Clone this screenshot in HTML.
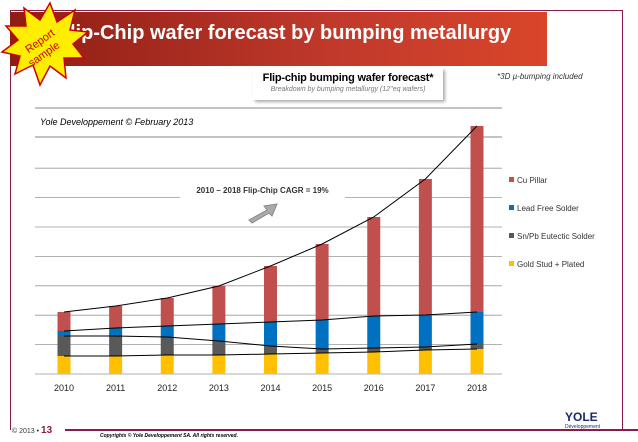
<!DOCTYPE html>
<html><head><meta charset="utf-8"><style>
body{margin:0;width:638px;height:442px;background:#fff;overflow:hidden;position:relative;font-family:"Liberation Sans",sans-serif}
.abs{position:absolute}
</style></head><body>
<div class="abs" style="left:10px;top:10px;width:613px;height:420px;border:1px solid #8b1a4a;border-bottom:none;box-sizing:border-box"></div>
<div class="abs" style="left:10px;top:12px;width:537px;height:54px;background:linear-gradient(90deg,#8e1d14,#c0392b 60%,#d9452a)"></div>
<div class="abs" style="left:70px;top:22px;color:#fff;font-weight:bold;font-size:20px">lip-Chip wafer forecast by bumping metallurgy</div>
<svg class="abs" style="left:0;top:0" width="90" height="95">
<polygon points="50,3 57,22 75,10 70,30 88,32 73,44 84,58 64,58 66,78 50,66 40,85 33,65 15,74 20,56 2,52 18,40 6,26 26,26 24,8 40,20" fill="#ffee00" stroke="#c00" stroke-width="1.5"/>
<text x="42" y="44" transform="rotate(-35 42 44)" font-size="11" fill="#c00" text-anchor="middle" font-family="Liberation Sans">Report</text>
<text x="46" y="57" transform="rotate(-35 46 57)" font-size="11" fill="#c00" text-anchor="middle" font-family="Liberation Sans">sample</text>
</svg>
<div class="abs" style="left:253px;top:68px;width:190px;height:32px;background:#fff;box-shadow:2px 2px 3px #aaa;text-align:center;white-space:nowrap">
<div style="font-size:11px;font-weight:bold;margin-top:4px;letter-spacing:-0.2px">Flip-chip bumping wafer forecast*</div>
<div style="font-size:7px;font-style:italic;color:#777;margin-top:2px">Breakdown by bumping metallurgy (12''eq wafers)</div></div>
<div class="abs" style="left:497px;top:72px;font-size:8px;font-style:italic;color:#333">*3D µ-bumping included</div>
<div class="abs" style="left:40px;top:117px;font-size:9px;font-style:italic">Yole Developpement © February 2013</div>
<svg id="chart" class="abs" style="left:0;top:0" width="638" height="442"></svg>
<div class="abs" style="left:180px;top:184px;width:165px;height:14px;background:#fff;font-size:8px;font-weight:bold;color:#333;text-align:center;line-height:14px">2010 – 2018 Flip-Chip CAGR = 19%</div>
<svg class="abs" style="left:247px;top:200px" width="34" height="24"><polygon points="2,20 20,10 17,6 30,4 25,16 22,13 5,23" fill="#aaa" stroke="#888"/></svg>
<div class="abs" style="left:65px;top:429px;width:573px;height:2px;background:#8b1a4a"></div>
<div class="abs" style="left:12px;top:425px;font-size:7px;color:#333">© 2013 • <b style="color:#8b1a4a;font-size:10px">13</b></div>
<div class="abs" style="left:100px;top:433px;font-size:5px;font-style:italic;font-weight:bold">Copyrights © Yole Developpement SA. All rights reserved.</div>
<div class="abs" style="left:565px;top:410px;font-size:12px;font-weight:bold;color:#1a2a6c">YOLE<div style="font-size:5px;font-weight:normal">Développement</div></div>
<script>
const years=["2010","2011","2012","2013","2014","2015","2016","2017","2018"];
const gold=[18,18,19,19,20,21,22,24,25];
const snpb=[20,20,18,14,8,4,4,3,5];
const leadFree=[5,8,11,17,24,29,32,32,32];
const cuPillar=[19,22,28,38,56,76,99,136,186];
const seriesNames=["Gold Stud + Plated","Sn/Pb Eutectic Solder","Lead Free Solder","Cu Pillar"];
const colors=["#ffc000","#595959","#0070c0","#c0504d"];
const series=[gold,snpb,leadFree,cuPillar];
const yMax=264,gridStep=29.4,gridCount=8;
const svg=document.getElementById('chart'),NS="http://www.w3.org/2000/svg";
const x0=35,x1=502,y0=374,y1=110;
const yS=v=>y0-(v/yMax)*(y0-y1);
const step=(477-64)/(years.length-1);
const xS=i=>64+i*step;
function mk(t,a){const e=document.createElementNS(NS,t);for(const k in a)e.setAttribute(k,a[k]);svg.appendChild(e);return e;}
let l=mk('line',{x1:x0,x2:x1,y1:108,y2:108,stroke:'#888'});
l=mk('line',{x1:x0,x2:x1,y1:137,y2:137,stroke:'#888'});
for(let g=0;g<gridCount;g++){const y=yS(g*gridStep);const e=mk('line',{x1:x0,x2:x1,y1:y,y2:y,stroke:'#999','stroke-width':0.8});
}
const cum=years.map(()=>0);const tops=[];
series.forEach((s,si)=>{const t=[];years.forEach((yr,i)=>{const b=cum[i];cum[i]+=s[i];
const r=mk('rect',{x:xS(i)-6.5,width:13,y:yS(cum[i]),height:yS(b)-yS(cum[i]),fill:colors[si]});
t.push(cum[i]);});tops.push(t);});
tops.forEach((t,si)=>{const p=mk('polyline',{points:t.map((v,i)=>xS(i)+','+yS(v)).join(' '),fill:'none',stroke:'#000','stroke-width':1});
});
years.forEach((yr,i)=>{const e=mk('text',{x:xS(i),y:391,'font-size':9,'text-anchor':'middle','font-family':'Liberation Sans',fill:'#222'});e.textContent=yr;
});
[3,2,1,0].forEach((si,k)=>{const y=180+k*28;const r=mk('rect',{x:509,y:y-3,width:5,height:5,fill:colors[si]});

const e=mk('text',{x:517,y:y+3,'font-size':8,'font-family':'Liberation Sans',fill:'#333'});e.textContent=seriesNames[si];
});
</script>
</body></html>
